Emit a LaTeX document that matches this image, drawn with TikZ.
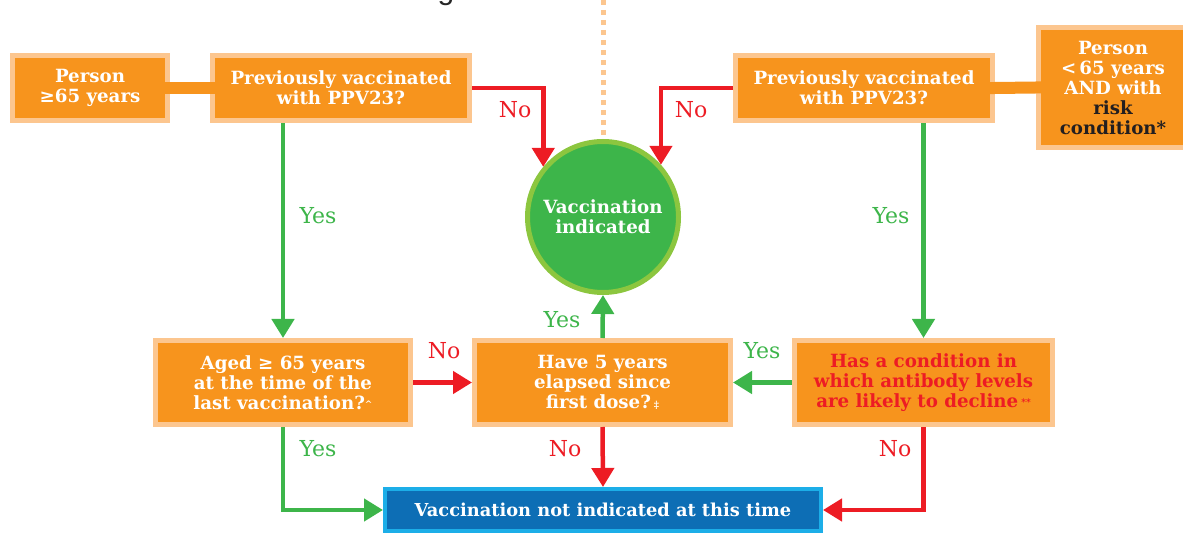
\documentclass[tikz,border=0pt]{standalone}
\usepackage{fontspec}
\setmainfont{DejaVu Serif}
\newfontfamily\headfnt{Liberation Sans}
\usetikzlibrary{arrows.meta,calc}
\definecolor{orangeA}{HTML}{F7941D}
\definecolor{peach}{HTML}{FCC68F}
\definecolor{greenA}{HTML}{3DB54A}
\definecolor{greenRing}{HTML}{8CC63F}
\definecolor{redA}{HTML}{ED1C24}
\definecolor{blueA}{HTML}{0D6EB5}
\definecolor{blueRing}{HTML}{1CAEE8}
\definecolor{darkT}{HTML}{231F20}
\tikzset{
  box/.style={draw=peach, fill=orangeA, line width=5pt, inner sep=0pt, align=center, text=white,
    font=\bfseries\fontsize{18.2}{20.2}\selectfont},
  circbox/.style={circle, draw=greenRing, fill=greenA, line width=5pt, inner sep=0pt, minimum size=151pt,
    align=center, text=white, font=\bfseries\fontsize{18.2}{20.2}\selectfont},
  bluebox/.style={draw=blueRing, fill=blueA, line width=4pt, inner sep=0pt, align=center, text=white,
    font=\bfseries\fontsize{17.8}{20}\selectfont},
  bar/.style={draw=orangeA, line width=12pt, shorten <=-5.5pt, shorten >=-5.5pt},
  redarr/.style={draw=redA, line width=4.5pt, -{Triangle[width=22pt,length=19pt]}},
  grnarr/.style={draw=greenA, line width=4.5pt, -{Triangle[width=22pt,length=19pt]}},
  lab/.style={font=\fontsize{22}{24}\selectfont, inner sep=0pt},
  nolab/.style={lab, text=redA},
  yeslab/.style={lab, text=greenA},
  dotline/.style={draw=peach, line width=5pt, dash pattern=on 5pt off 5pt},
  sup/.style={}
}
\newcommand{\smallmark}[1]{{\fontsize{9}{9}\selectfont\raisebox{2pt}{#1}}}
\begin{document}
\begin{tikzpicture}[x=1pt,y=-1pt]
\useasboundingbox (0,0) rectangle (1183,534);
\clip (0,0) rectangle (1183,534);

\node[anchor=base, font=\headfnt\fontsize{30}{30}\selectfont, text=black!85] (hg) at (446,0) {g};

% top row
\node[box, minimum width=155pt, minimum height=65pt] (pL) at (90,88) {Person\\≥65 years};
\node[box, minimum width=257pt, minimum height=65pt] (vL) at (341,88) {Previously vaccinated\\with PPV23?};
\node[box, minimum width=257pt, minimum height=65pt] (vR) at (864,88) {Previously vaccinated\\with PPV23?};
\node[box, minimum width=149pt, minimum height=120pt, font=\bfseries\fontsize{18.2}{20}\selectfont] (pR) at (1113,87.5) {Person\\{<}\,65 years\\AND with\\\textcolor{darkT}{risk}\\\textcolor{darkT}{condition*}};

% circle
\node[circbox] (circ) at (603,217) {Vaccination\\indicated};
\draw[dotline] (603,0) -- (circ.north);

% middle row
\node[box, minimum width=255pt, minimum height=84pt] (aged) at (283,382.5) {Aged ≥ 65 years\\at the time of the\\last vaccination?\smallmark{\char`\^}};
\node[box, minimum width=256pt, minimum height=84pt] (five) at (602.5,382.5) {Have 5 years\\elapsed since\\first dose?\,{\fontsize{10}{10}\selectfont ‡}};
\node[box, minimum width=258pt, minimum height=84pt, text=redA] (cond) at (923.5,382.5) {Has a condition in\\which antibody levels\\are likely to decline\,\smallmark{**}};

% bottom
\node[bluebox, minimum width=436pt, minimum height=42pt] (blue) at (603,510) {Vaccination not indicated at this time};

% bars
\draw[bar] (pL.east) -- (vL.west);
\draw[bar] (vR.east) -- (pR.west);

% arrows
\draw[redarr] (vL.east) -| (circ.140);
\draw[redarr] (vR.west) -| (circ.42);
\draw[grnarr] (aged.north |- vL.south) -- (aged.north);
\draw[grnarr] (cond.north |- vR.south) -- (cond.north);
\draw[redarr] (aged.east) -- (five.west);
\draw[grnarr] (cond.west) -- (five.east);
\draw[grnarr] (five.north) -- (circ.south);
\draw[redarr] (five.south) -- (blue.north);
\draw[grnarr] (aged.south) |- (blue.west);
\draw[redarr] (cond.south) |- (blue.east);

% labels
\node[nolab] (l1) at (515,110) {No};
\node[nolab] (l2) at (691,110) {No};
\node[yeslab] (l3) at (318,216) {Yes};
\node[yeslab] (l4) at (891,216) {Yes};
\node[yeslab] (l5) at (562,320) {Yes};
\node[nolab] (l6) at (444,351) {No};
\node[yeslab] (l7) at (762,351) {Yes};
\node[yeslab] (l8) at (318,449) {Yes};
\node[nolab] (l9) at (565,449) {No};
\node[nolab] (l10) at (895,449) {No};
\end{tikzpicture}
\end{document}
